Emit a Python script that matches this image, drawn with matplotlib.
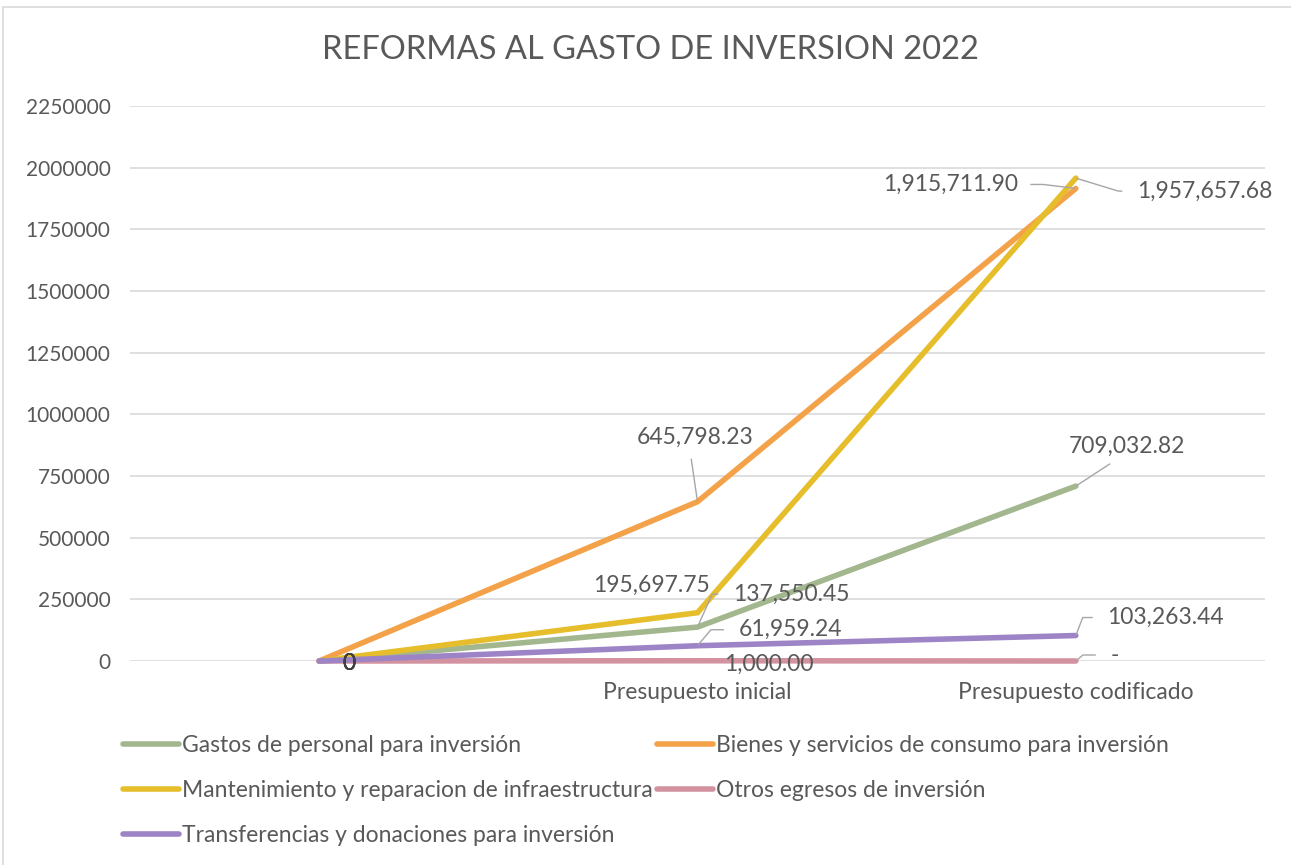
import matplotlib.pyplot as plt
from matplotlib.patches import Rectangle
from matplotlib.ticker import MultipleLocator, FuncFormatter

plt.rcParams['font.family'] = ['Lato', 'DejaVu Sans']

# datos
categorias = ['', 'Presupuesto inicial', 'Presupuesto codificado']
series = ['Gastos de personal para inversión',
          'Bienes y servicios de consumo para inversión',
          'Mantenimiento y reparacion de infraestructura',
          'Otros egresos de inversión',
          'Transferencias y donaciones para inversión']
gastos_personal = [0, 137550.45, 709032.82]
bienes_servicios = [0, 645798.23, 1915711.90]
mantenimiento = [0, 195697.75, 1957657.68]
otros_egresos = [0, 1000.00, 0]
transferencias = [0, 61959.24, 103263.44]
valores = [gastos_personal, bienes_servicios, mantenimiento, otros_egresos, transferencias]

colores = ['#A3B78F', '#F4A24A', '#E6BE2C', '#D3929F', '#9D84C6']
gris = '#595959'
lider = '#A6A6A6'

# posicion de etiquetas (offset en pixeles desde el punto) y linea guia
# (serie, categoria): (dx, dy, tipo de guia, parametro)
etiquetas = {
    (1, 1): (-2, 64, 'recta', (0.45, 0)),
    (2, 1): (-46, 27, None, None),
    (0, 1): (94, 33, 'angulo', 66),
    (4, 1): (93, 16, 'angulo', 50),
    (3, 1): (71, -4, None, None),
    (0, 2): (51, 40, 'recta', (0.45, 0)),
    (4, 2): (90, 18, 'angulo', 69),
    (3, 2): (39, 6, 'angulo', 40),
    (2, 2): (129, -13, 'angulo', -17),
    (1, 2): (-125, 4, 'angulo_izq', -7),
}

fig = plt.figure(figsize=(12.91, 8.65), dpi=100)
ax = fig.add_axes([130 / 1291, 1 - 661 / 865, 1135 / 1291, 555 / 865])

x = list(range(len(categorias)))
lineas = []
for i, (nombre, vals) in enumerate(zip(series, valores)):
    ln, = ax.plot(x, vals, color=colores[i], lw=4, solid_capstyle='round',
                  solid_joinstyle='miter', label=nombre, zorder=3 + i, clip_on=False)
    lineas.append(ln)

for i, vals in enumerate(valores):
    for j, v in enumerate(vals):
        if j == 0:
            ax.annotate('0', (j, v), xytext=(30, -2), textcoords='offset pixels',
                        ha='center', va='center', fontsize=16.5, color='#404040', zorder=10)
            continue
        dx, dy, tipo, param = etiquetas[(i, j)]
        texto = '-' if v == 0 else f'{v:,.2f}'
        props = None
        if tipo == 'recta':
            props = dict(arrowstyle='-', color=lider, lw=1, relpos=param,
                         shrinkA=6, shrinkB=1)
        elif tipo == 'angulo':
            props = dict(arrowstyle='-', color=lider, lw=1, relpos=(0, 0.5),
                         connectionstyle=f'angle,angleA=0,angleB={param},rad=0',
                         shrinkA=9, shrinkB=1)
        elif tipo == 'angulo_izq':
            props = dict(arrowstyle='-', color=lider, lw=1, relpos=(1, 0.5),
                         connectionstyle=f'angle,angleA=0,angleB={param},rad=0',
                         shrinkA=7, shrinkB=1)
        ax.annotate(texto, (j, v), xytext=(dx, dy), textcoords='offset pixels',
                    ha='center', va='center', fontsize=16.5, color=gris,
                    arrowprops=props, zorder=10)

ax.set_xlim(-0.5, 2.5)
ax.set_ylim(0, 2250000)
ax.yaxis.set_major_locator(MultipleLocator(250000))
ax.yaxis.set_major_formatter(FuncFormatter(lambda v, p: f'{v:.0f}'))
ax.set_xticks(x)
ax.set_xticklabels(categorias)
ax.tick_params(axis='both', length=0, labelcolor=gris)
ax.tick_params(axis='y', pad=14, labelsize=15)
ax.tick_params(axis='x', pad=15, labelsize=16.5)
ax.grid(axis='y', color='#D9D9D9', lw=1.2)
ax.set_axisbelow(True)
for s in ax.spines.values():
    s.set_visible(False)

fig.text(650 / 1291, 1 - 50 / 865, 'REFORMAS AL GASTO DE INVERSION 2022',
         ha='center', va='center', fontsize=23.5, color=gris)

# leyenda en orden por filas
orden = [0, 2, 4, 1, 3]
leg = fig.legend([lineas[k] for k in orden], [series[k] for k in orden],
                 loc='upper left', bbox_to_anchor=(102 / 1291, 1 - 714 / 865),
                 ncol=2, frameon=False, fontsize=16.5, labelcolor=gris,
                 handlelength=2.45, handletextpad=0.12, columnspacing=0.2,
                 labelspacing=1.05)

fig.patches.append(Rectangle((3 / 1291, -0.02), 1.0, 1 - 7 / 865 + 0.02,
                             transform=fig.transFigure, fill=False,
                             edgecolor='#D9D9D9', lw=1.2))

fig.savefig('out.png', dpi=100)
